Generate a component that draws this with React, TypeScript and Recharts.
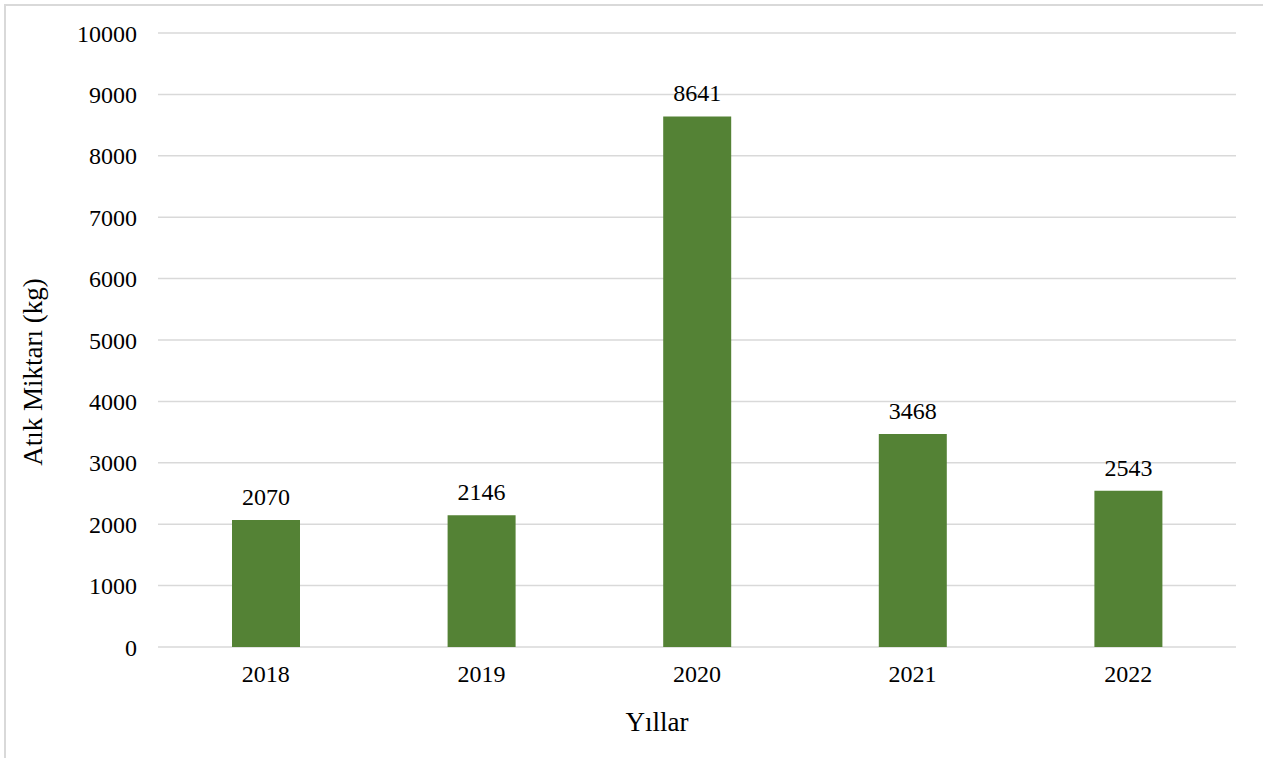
import { Bar, BarChart, CartesianGrid, LabelList, Label, XAxis, YAxis } from "recharts";

const years = ["2018", "2019", "2020", "2021", "2022"];
const amounts = [2070, 2146, 8641, 3468, 2543];
const yTicks = [0, 1000, 2000, 3000, 4000, 5000, 6000, 7000, 8000, 9000, 10000];

const FONT = '"Liberation Serif", "Times New Roman", serif';

const data = years.map((year, i) => ({ year, amount: amounts[i] }));

export default function App() {
  return (
    <div
      style={{
        position: "absolute",
        left: 0,
        top: 0,
        width: 1263,
        height: 758,
        overflow: "hidden",
        background: "#fff",
      }}
    >
      <div
        style={{
          position: "absolute",
          left: 4,
          top: 4,
          width: 1280,
          height: 780,
          border: "2px solid #d9d9d9",
        }}
      />
      <div style={{ position: "absolute", left: 0, top: 0 }}>
        <BarChart
          width={1263}
          height={758}
          data={data}
          margin={{ top: 33, right: 27, left: 10, bottom: 0 }}
          barCategoryGap="0%"
        >
          <CartesianGrid vertical={false} stroke="#d9d9d9" strokeWidth={1.5} />
          <XAxis
            dataKey="year"
            height={111}
            axisLine={false}
            tickLine={false}
            tickSize={0}
            tickMargin={18}
            tick={{ fontSize: 24, fill: "#000", fontFamily: FONT }}
          >
            <Label
              value="Yıllar"
              position="insideBottom"
              offset={27}
              dx={-40}
              style={{ fontSize: 27, fill: "#000", fontFamily: FONT }}
            />
          </XAxis>
          <YAxis
            width={148}
            domain={[0, 10000]}
            ticks={yTicks}
            interval={0}
            axisLine={false}
            tickLine={false}
            tickSize={0}
            tickMargin={21}
            tick={{ fontSize: 24, fill: "#000", fontFamily: FONT }}
          >
            <Label
              content={({ viewBox }: any) => {
                // title is centred on the whole chart frame, a bit below the plot middle
                const cx = 33;
                const cy = viewBox.y + viewBox.height / 2 + 32;
                return (
                  <text
                    x={cx}
                    y={cy}
                    transform={`rotate(-90, ${cx}, ${cy})`}
                    textAnchor="middle"
                    dominantBaseline="central"
                    style={{ fontSize: 27, fill: "#000", fontFamily: FONT }}
                  >
                    Atık Miktarı (kg)
                  </text>
                );
              }}
            />
          </YAxis>
          <Bar dataKey="amount" fill="#548235" barSize={68} isAnimationActive={false}>
            <LabelList
              dataKey="amount"
              position="top"
              offset={15}
              style={{ fontSize: 24, fill: "#000", fontFamily: FONT }}
            />
          </Bar>
        </BarChart>
      </div>
    </div>
  );
}
